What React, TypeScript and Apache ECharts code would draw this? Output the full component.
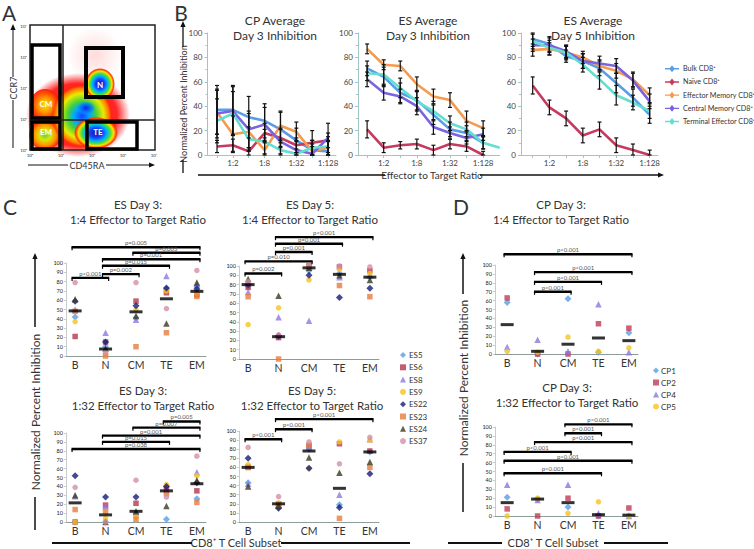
import React, { useEffect, useRef } from "react";
import * as echarts from "echarts";

const FONT = 'Lato, "Open Sans", "DejaVu Sans", sans-serif';
const TXT = "#333";

// ---------- Panel A (flow plot) ----------
const flowTickLabels = ["10⁰", "10¹", "10²", "10³", "10⁴"];

// ---------- Panel B (line charts) ----------
const ratioLabels = ["1:1", "1:2", "1:4", "1:8", "1:16", "1:32", "1:64", "1:128"];
const labelledRatios = [2, 4, 6, 8];
const subsetNames = ["Bulk CD8⁺", "Naïve CD8⁺", "Effector Memory CD8⁺", "Central Memory CD8⁺", "Terminal Effector CD8⁺"];
const subsetColors = ["#5a9de3", "#c63a5d", "#f59b50", "#7a63df", "#63ded1"];

// CP Average, Day 3
const cpD3Bulk = [37, 37, 31, 28, 21, 12, 4, 3];
const cpD3Naive = [7, 8, 3, 18, 14, 8, 10, 12];
const cpD3EM = [35, 17, 19, 4, 24, 19, 3, 6];
const cpD3CM = [34, 36, 21, 25, 11, 4, 1, 14];
const cpD3TE = [28, 34, 13, 11, 4, 1, 6, 7];
const cpD3BulkErr = [20, 20, 17, 14, 14, 10, 8, 8];
const cpD3NaiveErr = [5, 5, 3, 8, 8, 6, 10, 6];
const cpD3EMErr = [18, 15, 15, 8, 12, 8, 6, 6];
const cpD3CMErr = [20, 20, 15, 14, 10, 8, 6, 12];
const cpD3TEErr = [18, 18, 10, 10, 6, 4, 6, 8];

// ES Average, Day 3
const esD3Bulk = [71, 64, 51, 45, 33, 21, 18, 10];
const esD3Naive = [21, 6, 8, 9, 4, 9, 7, 0];
const esD3EM = [87, 74, 73, 58, 48, 45, 28, 22];
const esD3CM = [62, 51, 48, 40, 23, 18, 14, 17];
const esD3TE = [67, 66, 55, 44, 36, 26, 21, 10, 6];
const esD3BulkErr = [6, 8, 8, 8, 8, 6, 6, 5];
const esD3NaiveErr = [7, 4, 3, 4, 4, 4, 4, 3];
const esD3EMErr = [4, 4, 4, 6, 6, 6, 8, 6];
const esD3CMErr = [6, 6, 6, 7, 6, 5, 5, 5];
const esD3TEErr = [6, 8, 8, 8, 8, 6, 6, 5, 0];

// ES Average, Day 5
const esD5Bulk = [95, 91, 81, 77, 71, 59, 47, 33];
const esD5Naive = [57, 39, 30, 16, 21, 8, 4, 0];
const esD5EM = [86, 87, 84, 80, 73, 69, 62, 49];
const esD5CM = [90, 90, 85, 77, 75, 73, 61, 44];
const esD5TE = [93, 88, 84, 74, 62, 49, 43, 36];
const esD5BulkErr = [6, 6, 5, 6, 6, 8, 7, 7];
const esD5NaiveErr = [7, 6, 6, 6, 6, 6, 5, 4];
const esD5EMErr = [5, 5, 5, 5, 5, 6, 6, 6];
const esD5CMErr = [5, 6, 5, 6, 6, 6, 6, 6];
const esD5TEErr = [6, 6, 6, 6, 8, 8, 6, 6];

// ---------- Panels C and D (dot plots) ----------
const subsetCats = ["B", "N", "CM", "TE", "EM"];
const esDonors = ["ES5", "ES6", "ES8", "ES9", "ES22", "ES23", "ES24", "ES37"];
const esColors = ["#5a9ee6", "#b5334f", "#8c79e6", "#f7c21b", "#141c7a", "#e77d3c", "#3b3b1f", "#d38fa6"];
const esSymbols = ["diamond", "rect", "triangle", "circle", "diamond", "rect", "triangle", "circle"];
const cpDonors = ["CP1", "CP2", "CP4", "CP5"];
const cpColors = ["#5a9ee6", "#c03a55", "#8877e0", "#f5c320"];
const cpSymbols = ["diamond", "rect", "triangle", "circle"];

// rows = donors, columns = B, N, CM, TE, EM
const esD3R4 = [
  [42, 10, 41, 72, 75],
  [21, 15, 59, 68, 66],
  [50, 25, 39, 86, 77],
  [37, 2, 50, 70, 67],
  [59, 15, 54, 73, 72],
  [48, 0, 10, 25, 64],
  [61, 8, 43, 35, 79],
  [79, 4, 79, 51, 92],
];
const esD3R4Bars = [48.5, 7.5, 47.5, 61.5, 69.5];
const esD3R4Sig: [number, number, number, string][] = [
  [0, 4, 117, "p=0.005"], [2, 4, 111, "p=0.005"], [1, 4, 104, "p=0.001"],
  [1, 3, 97, "p=0.015"], [1, 2, 88, "p=0.002"], [0, 1, 84, "p<0.001"],
];

const esD5R4 = [
  [78, 24, 95, 92, 88],
  [77, 23, 100, 99, 95],
  [72, 45, 41, 88, 90],
  [37, 55, 85, 96, 92],
  [80, 25, 90, 66, 76],
  [67, 0, 100, 79, 67],
  [86, 68, 98, 90, 85],
  [83, 26, 100, 100, 99],
];
const esD5R4Bars = [80, 24, 98, 91, 88];
const esD5R4Sig: [number, number, number, string][] = [
  [1, 4, 131, "p<0.001"], [1, 3, 124, "p=0.001"], [1, 2, 115, "p=0.001"],
  [0, 2, 105, "p=0.010"], [0, 1, 92, "p=0.002"],
];

const esD3R32 = [
  [0, 0, 9, 3, 26],
  [0, 19, 21, 38, 35],
  [29, 18, 10, 36, 56],
  [0, 4, 6, 42, 52],
  [52, 28, 28, 40, 44],
  [14, 12, 3, 32, 22],
  [30, 0, 12, 18, 47],
  [39, 0, 47, 28, 74],
];
const esD3R32Bars = [21.5, 8, 12, 35, 43];
const esD3R32Sig: [number, number, number, string][] = [
  [3, 4, 113, "p=0.005"], [2, 4, 106, "p=0.007"], [1, 4, 97, "p=0.001"],
  [1, 3, 90, "p=0.015"], [0, 4, 82, "p=0.038"],
];

const esD5R32 = [
  [43, 16, 80, 19, 77],
  [60, 20, 84, 86, 78],
  [42, 19, 83, 30, 91],
  [63, 21, 59, 88, 90],
  [70, 15, 59, 16, 53],
  [60, 19, 84, 4, 60],
  [39, 18, 71, 54, 66],
  [82, 28, 88, 64, 93],
];
const esD5R32Bars = [60, 20, 78, 37, 77];
const esD5R32Sig: [number, number, number, string][] = [
  [1, 4, 113, "p<0.001"], [1, 2, 102, "p<0.001"], [0, 1, 91, "p<0.001"],
];

const cpD3R4 = [
  [58, 0, 62, 2, 24],
  [63, 0, 0, 34, 29],
  [8, 16, 3, 56, 2],
  [3, 2, 19, 3, 7],
];
const cpD3R4Bars = [33, 3, 11, 18, 15];
const cpD3R4Sig: [number, number, number, string][] = [
  [0, 4, 112, "p<0.001"], [1, 4, 92, "p<0.001"], [1, 3, 81, "p<0.001"], [1, 2, 70, "p<0.001"],
];

const cpD3R32 = [
  [21, 19, 10, 0, 0],
  [8, 0, 20, 0, 9],
  [35, 18, 35, 3, 0],
  [0, 20, 3, 16, 0],
];
const cpD3R32Bars = [15, 19, 15, 1.5, 1];
const cpD3R32Sig: [number, number, number, string][] = [
  [2, 4, 103, "p<0.001"], [2, 3, 93, "p<0.001"], [1, 4, 83, "p<0.001"],
  [0, 2, 72, "p<0.001"], [0, 4, 62, "p<0.001"], [0, 3, 48, "p<0.001"],
];

// ---------- helpers ----------
const symSize = (s: string) => (s === "diamond" ? 7 : s === "triangle" ? 6.5 : 5.5);

const errRender = (params: any, api: any) => {
  const x = api.value(0);
  const lo = Math.max(0, api.value(1));
  const hi = Math.min(100, api.value(2));
  const a = api.coord([x, lo]);
  const b = api.coord([x, hi]);
  const st = { stroke: "#111", lineWidth: 1.2 };
  return {
    type: "group",
    children: [
      { type: "line", shape: { x1: a[0], y1: a[1], x2: b[0], y2: b[1] }, style: st },
      { type: "line", shape: { x1: a[0] - 2, y1: a[1], x2: a[0] + 2, y2: a[1] }, style: st },
      { type: "line", shape: { x1: b[0] - 2, y1: b[1], x2: b[0] + 2, y2: b[1] }, style: st },
    ],
  };
};

const makeSigRender = (sig: [number, number, number, string][]) => (params: any, api: any) => {
  const s = sig[params.dataIndex];
  const a = api.coord([s[0] - 0.12, s[2]]);
  const b = api.coord([s[1] + 0.12, s[2]]);
  return {
    type: "group",
    children: [
      { type: "line", shape: { x1: a[0], y1: a[1], x2: b[0], y2: b[1] }, style: { stroke: "#000", lineWidth: 2.4 } },
      { type: "line", shape: { x1: a[0] + 0.6, y1: a[1], x2: a[0] + 0.6, y2: a[1] + 3 }, style: { stroke: "#000", lineWidth: 1.2 } },
      { type: "line", shape: { x1: b[0] - 0.6, y1: b[1], x2: b[0] - 0.6, y2: b[1] + 3 }, style: { stroke: "#000", lineWidth: 1.2 } },
      {
        type: "text",
        style: {
          text: s[3], x: (a[0] + b[0]) / 2, y: a[1] - 1.6, align: "center", verticalAlign: "bottom",
          fontSize: 6, fill: "#555", fontFamily: FONT,
        },
      },
    ],
  };
};

function buildOption() {
  const grid: any[] = [];
  const xAxis: any[] = [];
  const yAxis: any[] = [];
  const series: any[] = [];

  const addLineChart = (
    box: { left: number; top: number; width: number; height: number },
    xmin: number, xmax: number, values: number[][], errs: number[][]
  ) => {
    const gi = grid.length;
    grid.push({ ...box, containLabel: false });
    const axisColor = "#a3c4c4";
    xAxis.push({
      type: "value", gridIndex: gi, min: xmin, max: xmax,
      axisLine: { onZero: false, lineStyle: { color: axisColor, width: 1 } },
      axisTick: { show: true, customValues: ratioLabels.map((_, i) => i + 1), length: 3, lineStyle: { color: axisColor } },
      axisLabel: {
        customValues: labelledRatios, formatter: (v: number) => ratioLabels[Math.round(v) - 1],
        fontSize: 8, color: "#444", margin: 4, fontFamily: FONT,
      },
      splitLine: { show: false },
    });
    yAxis.push({
      type: "value", gridIndex: gi, min: 0, max: 100, interval: 20,
      axisLine: { show: true, onZero: false, lineStyle: { color: axisColor } },
      axisTick: { show: true, length: 3, lineStyle: { color: axisColor } },
      minorTick: { show: true, splitNumber: 2, length: 2, lineStyle: { color: axisColor } },
      axisLabel: { fontSize: 8, color: "#444", margin: 5, fontFamily: FONT },
      splitLine: { show: false },
    });
    values.forEach((vals, si) => {
      series.push({
        type: "line", name: subsetNames[si], xAxisIndex: gi, yAxisIndex: gi,
        data: vals.map((v, i) => [i + 1, v]), symbol: "none", showSymbol: false,
        lineStyle: { width: 2.6, color: subsetColors[si] }, itemStyle: { color: subsetColors[si] }, z: 2,
      });
    });
    const eb: number[][] = [];
    values.forEach((vals, si) =>
      vals.forEach((v, i) => {
        const e = errs[si][i];
        if (e > 0) eb.push([i + 1, v - e, v + e]);
      })
    );
    series.push({
      type: "custom", xAxisIndex: gi, yAxisIndex: gi, data: eb, renderItem: errRender,
      encode: { x: 0, y: [1, 2] }, z: 3, silent: true, clip: false,
    });
  };

  const addDotChart = (
    box: { left: number; top: number; width: number; height: number }, xmin: number,
    rows: number[][], names: string[], colors: string[], symbols: string[],
    bars: number[], sig: [number, number, number, string][]
  ) => {
    const gi = grid.length;
    grid.push({ ...box, containLabel: false });
    xAxis.push({
      type: "value", gridIndex: gi, min: xmin, max: 4.3,
      axisLine: { onZero: false, lineStyle: { color: "#8f9c9c", width: 1 } },
      axisTick: { show: false },
      axisLabel: {
        customValues: [0, 1, 2, 3, 4], formatter: (v: number) => subsetCats[Math.round(v)],
        fontSize: 10.5, color: TXT, margin: 3, fontFamily: FONT,
      },
      splitLine: { show: false },
    });
    yAxis.push({
      type: "value", gridIndex: gi, min: 0, max: 100, interval: 10,
      axisLine: { show: true, onZero: false, lineStyle: { color: "#c8cccc" } },
      axisTick: { show: true, length: 2, lineStyle: { color: "#c8cccc" } },
      axisLabel: { fontSize: 5.5, color: "#222", margin: 3, fontFamily: FONT },
      splitLine: { show: false },
    });
    rows.forEach((row, di) => {
      series.push({
        type: "scatter", name: names[di], xAxisIndex: gi, yAxisIndex: gi,
        symbol: symbols[di], symbolSize: symSize(symbols[di]),
        itemStyle: { color: colors[di] }, data: row.map((v, ci) => [ci, v]), z: 2,
      });
    });
    series.push({
      type: "scatter", xAxisIndex: gi, yAxisIndex: gi, symbol: "rect", symbolSize: [13, 3],
      itemStyle: { color: "#000" }, data: bars.map((v, ci) => [ci, v]), z: 3, silent: true,
    });
    series.push({
      type: "custom", xAxisIndex: gi, yAxisIndex: gi, data: sig.map((s) => [s[0], s[1], s[2]]),
      renderItem: makeSigRender(sig), encode: { x: [0, 1], y: 2 }, clip: false, z: 4, silent: true,
    });
  };

  // Panel B
  addLineChart({ left: 207.5, top: 33, width: 128.5, height: 122 }, 0.4, 8.5,
    [cpD3Bulk, cpD3Naive, cpD3EM, cpD3CM, cpD3TE], [cpD3BulkErr, cpD3NaiveErr, cpD3EMErr, cpD3CMErr, cpD3TEErr]);
  addLineChart({ left: 358, top: 33, width: 141.7, height: 122 }, 0.45, 9.0,
    [esD3Bulk, esD3Naive, esD3EM, esD3CM, esD3TE], [esD3BulkErr, esD3NaiveErr, esD3EMErr, esD3CMErr, esD3TEErr]);
  addLineChart({ left: 521, top: 33, width: 137, height: 122 }, 0.3, 8.5,
    [esD5Bulk, esD5Naive, esD5EM, esD5CM, esD5TE], [esD5BulkErr, esD5NaiveErr, esD5EMErr, esD5CMErr, esD5TEErr]);

  // Panel C
  addDotChart({ left: 66, top: 263, width: 140, height: 93 }, -0.3, esD3R4, esDonors, esColors, esSymbols, esD3R4Bars, esD3R4Sig);
  addDotChart({ left: 239, top: 266, width: 140, height: 93 }, -0.3, esD5R4, esDonors, esColors, esSymbols, esD5R4Bars, esD5R4Sig);
  addDotChart({ left: 66, top: 433, width: 140, height: 89 }, -0.3, esD3R32, esDonors, esColors, esSymbols, esD3R32Bars, esD3R32Sig);
  addDotChart({ left: 239, top: 431, width: 140, height: 91 }, -0.3, esD5R32, esDonors, esColors, esSymbols, esD5R32Bars, esD5R32Sig);

  // Panel D
  addDotChart({ left: 495, top: 265, width: 143, height: 89 }, -0.4, cpD3R4, cpDonors, cpColors, cpSymbols, cpD3R4Bars, cpD3R4Sig);
  addDotChart({ left: 495, top: 427, width: 143, height: 89 }, -0.4, cpD3R32, cpDonors, cpColors, cpSymbols, cpD3R32Bars, cpD3R32Sig);

  // ---------- graphics ----------
  const g: any[] = [];
  const T = (text: string, x: number, y: number, size: number, o: any = {}) => ({
    type: "text", x, y, rotation: o.rot || 0, z: o.z || 20,
    style: {
      text, fontSize: size, fontFamily: FONT, fill: o.color || TXT, align: o.align || "center",
      verticalAlign: o.va || "middle", fontWeight: o.weight || "normal",
    },
  });
  const L = (x1: number, y1: number, x2: number, y2: number, w = 1.2, color = "#111", z = 20) => ({
    type: "line", z, shape: { x1, y1, x2, y2 }, style: { stroke: color, lineWidth: w },
  });
  const arrowUp = (x: number, y: number) => ({
    type: "polygon", z: 20, shape: { points: [[x, y], [x - 2.6, y + 6], [x + 2.6, y + 6]] }, style: { fill: "#111" },
  });
  const arrowRight = (x: number, y: number) => ({
    type: "polygon", z: 20, shape: { points: [[x, y], [x - 6, y - 2.6], [x - 6, y + 2.6]] }, style: { fill: "#111" },
  });
  const rg = (stops: [number, string][]) => ({
    type: "radial", x: 0.5, y: 0.5, r: 0.5, colorStops: stops.map(([offset, color]) => ({ offset, color })),
  });
  const blob = (cx: number, cy: number, rx: number, ry: number, stops: [number, string][], z = 5) => ({
    type: "ellipse", z, shape: { cx, cy, rx, ry }, style: { fill: rg(stops) },
  });

  // Panel letters
  g.push(T("A", 9, 12, 21));
  g.push(T("B", 181, 12, 21));
  g.push(T("C", 10, 206, 21));
  g.push(T("D", 461, 206, 21));

  // Panel A: flow plot
  g.push(blob(95, 55, 28, 28, [[0, "rgba(255,90,90,0.22)"], [1, "rgba(255,90,90,0)"]], 4));
  g.push(blob(78, 115, 52, 42, [[0, "rgba(255,30,0,0.95)"], [0.75, "rgba(255,0,0,0.85)"], [1, "rgba(255,0,0,0)"]], 4));
  g.push(blob(45, 105, 15, 16, [[0, "#f6e400"], [0.45, "#ff9a00"], [1, "rgba(255,20,0,0.9)"]], 5));
  g.push(blob(45, 135, 16, 15, [[0, "#60d040"], [0.35, "#d8e800"], [0.7, "#ff9000"], [1, "rgba(255,20,0,0.9)"]], 5));
  g.push(blob(82, 116, 31, 32, [[0, "#1a40ff"], [0.25, "#00a8ff"], [0.45, "#40d040"], [0.7, "#e8ec00"], [0.88, "#ff7000"], [1, "rgba(255,0,0,0)"]], 6));
  g.push(blob(86, 108, 10, 7, [[0, "#1020e0"], [0.6, "rgba(0,120,255,0.8)"], [1, "rgba(0,160,255,0)"]], 7));
  g.push(blob(100, 84, 15, 16, [[0, "#1a1a90"], [0.3, "#1540ff"], [0.5, "#00b0ff"], [0.65, "#40e040"], [0.8, "#ffe000"], [0.92, "#ff4000"], [1, "rgba(255,0,0,0)"]], 7));
  g.push(blob(96, 133, 22, 16, [[0, "#1a1a90"], [0.3, "#1540ff"], [0.5, "#00b0ff"], [0.65, "#40e040"], [0.8, "#ffe000"], [0.92, "#ff4000"], [1, "rgba(255,0,0,0)"]], 7));
  g.push({ type: "rect", z: 12, shape: { x: 30, y: 25, width: 125, height: 125 }, style: { fill: "none", stroke: "#222", lineWidth: 1.5 } });
  g.push(L(63, 25, 63, 150, 1.5, "#222", 12));
  g.push(L(30, 120, 155, 120, 1.5, "#222", 12));
  const gate = (x: number, y: number, w: number, h: number, lw = 3.5) => ({
    type: "rect", z: 13, shape: { x, y, width: w, height: h }, style: { fill: "none", stroke: "#000", lineWidth: lw },
  });
  g.push(gate(32, 45, 28, 73));
  g.push(gate(86, 48, 37, 49, 4));
  g.push(gate(32, 122, 28, 27));
  g.push(gate(87, 122, 50, 27));
  g.push(T("CM", 46, 104, 8, { color: "#fff", weight: "bold", z: 14 }));
  g.push(T("N", 100, 85, 8, { color: "#fff", weight: "bold", z: 14 }));
  g.push(T("EM", 46, 132, 8, { color: "#fff", weight: "bold", z: 14 }));
  g.push(T("TE", 98, 132, 8, { color: "#fff", weight: "bold", z: 14 }));
  const flowY = [150, 119, 88, 57, 26];
  const flowX = [30, 61, 92, 123, 154];
  flowTickLabels.forEach((t, i) => {
    g.push(T(t, 27, flowY[i], 4.5, { align: "right" }));
    g.push(T(t, flowX[i], 155, 4.5));
  });
  g.push(T("CCR7", 13, 88, 9, { rot: Math.PI / 2 }));
  g.push(L(13, 29, 13, 77, 1));
  g.push(arrowUp(13, 24));
  g.push(L(13, 100, 13, 148, 1));
  g.push(T("CD45RA", 87, 165, 9));
  g.push(L(28, 165, 68, 165, 1));
  g.push(L(106, 165, 150, 165, 1));
  g.push(arrowRight(155, 165));

  // Panel B titles and axis titles
  g.push(T("CP Average", 275, 20, 12));
  g.push(T("Day 3 Inhibition", 275, 35, 12));
  g.push(T("ES Average", 428, 20, 12));
  g.push(T("Day 3 Inhibition", 428, 35, 12));
  g.push(T("ES Average", 593, 20, 12));
  g.push(T("Day 5 Inhibition", 593, 35, 12));
  g.push(T("Normalized Percent Inhibition", 183, 104, 9, { rot: Math.PI / 2 }));
  g.push(L(183, 27, 183, 47, 1.3));
  g.push(arrowUp(183, 21));
  g.push(L(183, 160, 183, 173, 1.3));
  g.push(T("Effector to Target Ratio", 432, 175, 10));
  g.push(L(198, 175, 385, 175, 1.6));
  g.push(L(480, 175, 658, 175, 1.6));
  g.push(arrowRight(664, 175));

  // Panel C titles
  g.push(T("ES Day 3:", 138, 204, 11.5));
  g.push(T("1:4 Effector to Target Ratio", 138, 219, 11.5));
  g.push(T("ES Day 5:", 310, 204, 11.5));
  g.push(T("1:4 Effector to Target Ratio", 310, 219, 11.5));
  g.push(T("ES Day 3:", 143, 390, 11.5));
  g.push(T("1:32 Effector to Target Ratio", 143, 405, 11.5));
  g.push(T("ES Day 5:", 312, 390, 11.5));
  g.push(T("1:32 Effector to Target Ratio", 312, 405, 11.5));
  g.push(T("Normalized Percent Inhibition", 35, 412, 12, { rot: Math.PI / 2 }));
  g.push(L(35, 259, 35, 327, 1.5));
  g.push(arrowUp(35, 253));
  g.push(L(35, 497, 35, 530, 1.5));
  g.push(T("CD8⁺ T Cell Subset", 236, 542.5, 11));
  g.push(L(52, 543, 192, 543, 1.8));
  g.push(L(281, 543, 410, 543, 1.8));

  // Panel D titles
  g.push(T("CP Day 3:", 561, 204, 11.5));
  g.push(T("1:4 Effector to Target Ratio", 561, 219, 11.5));
  g.push(T("CP Day 3:", 567, 387, 11.5));
  g.push(T("1:32 Effector to Target Ratio", 567, 402, 11.5));
  g.push(T("Normalized Percent Inhibition", 463, 378, 12, { rot: Math.PI / 2 }));
  g.push(L(463, 259, 463, 294, 1.5));
  g.push(arrowUp(463, 253));
  g.push(L(463, 463, 463, 512, 1.5));
  g.push(T("CD8⁺ T Cell Subset", 553, 542.5, 11));
  g.push(L(448, 543, 502, 543, 1.8));
  g.push(L(604, 543, 668, 543, 1.8));

  const lineIcon = "path://M0,3.2 H5.5 L8,0 L10.5,3.2 H16 V4.8 H10.5 L8,8 L5.5,4.8 H0 Z";

  return {
    animation: false,
    backgroundColor: "#fff",
    textStyle: { fontFamily: FONT },
    grid, xAxis, yAxis, series, graphic: g,
    legend: [
      {
        orient: "vertical", left: 660, top: 59, itemWidth: 16, itemHeight: 7, itemGap: 3.7,
        icon: lineIcon, selectedMode: false, data: subsetNames,
        textStyle: { fontSize: 7.2, color: TXT, fontFamily: FONT, lineHeight: 9.5, padding: [0, 0, 0, -2] },
      },
      {
        orient: "vertical", left: 395, top: 345.5, itemWidth: 6, itemHeight: 6, itemGap: 3.3,
        selectedMode: false, data: esDonors,
        textStyle: { fontSize: 8, color: TXT, fontFamily: FONT, lineHeight: 9, padding: [0, 0, 0, -2] },
      },
      {
        orient: "vertical", left: 648, top: 361, itemWidth: 6, itemHeight: 6, itemGap: 3,
        selectedMode: false, data: cpDonors,
        textStyle: { fontSize: 8, color: TXT, fontFamily: FONT, lineHeight: 9, padding: [0, 0, 0, -3] },
      },
    ],
  };
}

export default function App() {
  const ref = useRef<HTMLDivElement>(null);
  useEffect(() => {
    const chart = echarts.init(ref.current as HTMLDivElement, null, { renderer: "svg" });
    chart.setOption(buildOption() as any);
    return () => chart.dispose();
  }, []);
  return (
    <div
      ref={ref}
      style={{ position: "fixed", left: 0, top: 0, width: 754, height: 549, background: "#fff" }}
    />
  );
}
